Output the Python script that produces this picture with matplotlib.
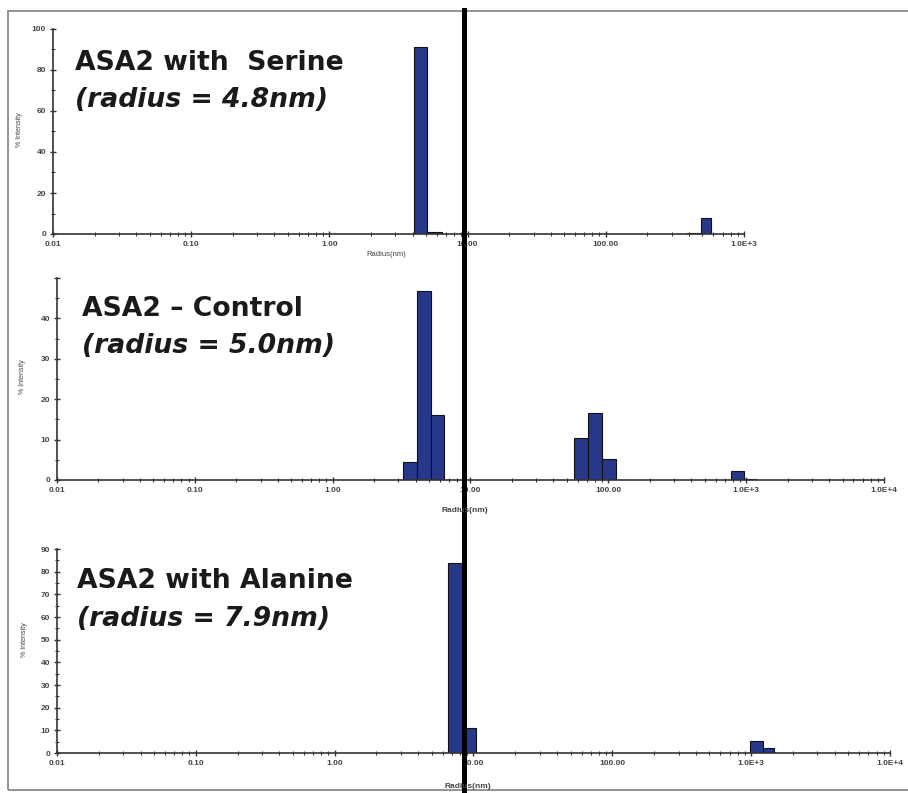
import matplotlib
matplotlib.use("Agg")
import matplotlib.pyplot as plt
from matplotlib.ticker import FixedLocator, LogLocator, MultipleLocator, NullFormatter
from matplotlib.lines import Line2D
from matplotlib.patches import Rectangle

plt.rcParams['font.family'] = ['Liberation Sans', 'DejaVu Sans']

# ---- data (radius bins in nm, % intensity) ----
serine_left = [4.09, 5.08, 387, 489]
serine_right = [5.08, 6.53, 489, 577]
serine_int = [91, 1.2, 0.6, 7.8]

control_left = [3.24, 4.09, 5.17, 56.5, 71.3, 90.2, 778, 966]
control_right = [4.09, 5.17, 6.43, 71.3, 90.2, 114, 966, 1181]
control_int = [4.4, 46.9, 16.2, 10.3, 16.7, 5.2, 2.2, 0.3]

alanine_left = [6.56, 8.28, 984, 1219]
alanine_right = [8.28, 10.4, 1219, 1466]
alanine_int = [83.7, 11.0, 5.3, 2.0]

titles = ["ASA2 with  Serine", "ASA2 \u2013 Control", "ASA2 with Alanine"]
subtitles = ["(radius = 4.8nm)", "(radius = 5.0nm)", "(radius = 7.9nm)"]

xtick_vals = [0.01, 0.1, 1, 10, 100, 1000, 10000]
xtick_labels = ["0.01", "0.10", "1.00", "10.00", "100.00", "1.0E+3", "1.0E+4"]

W, H = 908, 793
fig = plt.figure(figsize=(W / 100, H / 100), dpi=100)


def ax_px(l, t, r, b):
    return fig.add_axes([l / W, 1 - b / H, (r - l) / W, (b - t) / H])


def txt(x, y, s, **kw):
    fig.text(x / W, 1 - y / H, s, **kw)


boxes = [(53, 29, 744, 234), (57, 278, 884, 480), (57, 549, 890, 753)]
axes = [ax_px(*b) for b in boxes]
xmax = [1000, 10000, 10000]
ylims = [(0, 100, 20, 10), (0, 50, 10, 5), (0, 90, 10, 5)]
ylabel_px = [(23, 130), (26, 377), (28, 640)]
datasets = [(serine_left, serine_right, serine_int),
            (control_left, control_right, control_int),
            (alanine_left, alanine_right, alanine_int)]

bar_color = "#27378a"
axis_color = "#333333"
tick_color = "#444444"

for i, ax in enumerate(axes):
    L, R, V = datasets[i]
    widths = [r - l for l, r in zip(L, R)]
    ax.bar(L, V, width=widths, align='edge', color=bar_color,
           edgecolor="#111111", linewidth=0.8, zorder=2)
    ax.set_xscale('log')
    ax.set_xlim(0.01, xmax[i])
    y0, y1, ymaj, ymin = ylims[i]
    ax.set_ylim(y0, y1)
    ax.yaxis.set_major_locator(MultipleLocator(ymaj))
    ax.yaxis.set_minor_locator(MultipleLocator(ymin))
    if i == 1:
        ax.set_yticks([0, 10, 20, 30, 40, 50])
        ax.set_yticklabels(["0", "10", "20", "30", "40", ""])
    xv = [v for v in xtick_vals if v <= xmax[i]]
    xl = xtick_labels[:len(xv)]
    ax.xaxis.set_major_locator(FixedLocator(xv))
    ax.set_xticklabels(xl)
    ax.xaxis.set_minor_locator(LogLocator(base=10, subs=range(2, 10), numticks=20))
    ax.xaxis.set_minor_formatter(NullFormatter())
    for s in ['top', 'right']:
        ax.spines[s].set_visible(False)
    for s in ['left', 'bottom']:
        ax.spines[s].set_color(axis_color)
        ax.spines[s].set_linewidth(1.2)
    ax.tick_params(which='major', direction='inout', length=4, width=1.0,
                   color=axis_color, labelsize=6, labelcolor=tick_color, pad=3)
    ax.tick_params(which='minor', direction='inout', length=3, width=0.8,
                   color=axis_color)
    for lab in ax.get_xticklabels() + ax.get_yticklabels():
        lab.set_fontweight('bold')
    ax.set_ylabel("% Intensity", fontsize=5, color=tick_color)
    l, t, r, b = boxes[i]
    lx, ly = ylabel_px[i]
    ax.yaxis.set_label_coords((lx - l) / (r - l), (b - ly) / (b - t))
    ax.patch.set_alpha(0)

# x-axis labels
txt(386, 254, "Radius(nm)", fontsize=5.5, color=tick_color, ha='center', va='center')
txt(465, 510, "Radius(nm)", fontsize=6, color=tick_color, ha='center', va='center',
    fontweight='bold')
txt(468, 786, "Radius(nm)", fontsize=6, color=tick_color, ha='center', va='center',
    fontweight='bold')

# annotation titles
title_pos = [(75, 70, 107), (82, 316, 353), (77, 588, 626)]
for (x, yb1, yb2), t, s in zip(title_pos, titles, subtitles):
    txt(x, yb1, t, fontsize=19.2, fontweight='bold', color='#1a1a1a', va='baseline',
        family='DejaVu Sans')
    txt(x, yb2, s, fontsize=19.2, fontweight='bold', style='italic', color='#1a1a1a',
        va='baseline', family='DejaVu Sans')

# outer frame
fig.add_artist(Rectangle((8 / W, 1 - 790 / H), (W + 10 - 8) / W, (790 - 11) / H,
                         transform=fig.transFigure, fill=False,
                         edgecolor='#8a8a8a', linewidth=1.3))

# thick vertical reference line
fig.add_artist(Line2D([463.5 / W, 463.5 / W], [0, 1 - 10 / H],
                      transform=fig.transFigure, color='black', linewidth=3.6))

fig.savefig("out.png", dpi=100)
